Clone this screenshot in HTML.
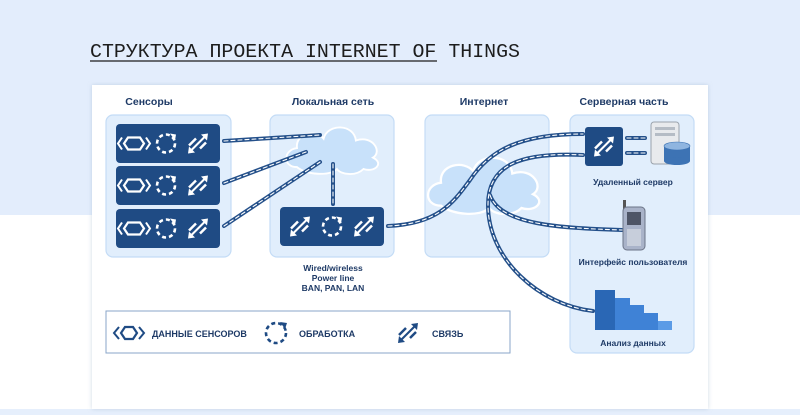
<!DOCTYPE html>
<html><head><meta charset="utf-8"><style>
html,body{margin:0;padding:0;width:800px;height:415px;overflow:hidden;background:#fff}
svg{display:block}
text{font-family:"Liberation Sans",sans-serif;font-weight:bold;fill:#1e3a66}
</style></head><body>
<svg width="800" height="415" viewBox="0 0 800 415" xmlns="http://www.w3.org/2000/svg">
<defs>
<filter id="sh" x="-5%" y="-5%" width="110%" height="110%"><feDropShadow dx="0" dy="0" stdDeviation="2" flood-color="#9fb3cc" flood-opacity="0.5"/></filter>
<g id="hex">
 <polygon points="-6,-6 6,-6 10,0 6,6 -6,6 -10,0" fill="none" stroke="#fff" stroke-width="2.2"/>
 <polyline points="-12,-6 -16,0 -12,6" fill="none" stroke="#fff" stroke-width="2"/>
 <polyline points="12,-6 16,0 12,6" fill="none" stroke="#fff" stroke-width="2"/>
</g>
<g id="cyc">
 <circle r="9" fill="none" stroke="#fff" stroke-width="2.6" stroke-dasharray="4 3"/>
 <polygon points="4,-10 10,-9 9,-3" fill="#fff"/>
</g>
<g id="lnk">
 <line x1="-8" y1="8" x2="8" y2="-8" stroke="#fff" stroke-width="2"/>
 <polygon points="10,-10 3,-9 9,-3" fill="#fff"/>
 <polygon points="-10,10 -3,9 -9,3" fill="#fff"/>
 <line x1="-9" y1="2" x2="-2" y2="-5" stroke="#fff" stroke-width="2.5"/>
 <line x1="2" y1="5" x2="8" y2="-1" stroke="#fff" stroke-width="2.5"/>
</g>
<g id="cloud">
 <path d="M-40,18 C-55,18 -55,0 -40,-2 C-42,-18 -20,-22 -12,-12 C-8,-28 20,-28 22,-10 C40,-16 50,2 40,8 C52,14 42,24 30,20 C22,28 6,26 2,20 C-6,28 -30,26 -40,18 Z" fill="#c8e1fa" stroke="#fff" stroke-width="2"/>
</g>
</defs>
<rect x="0" y="0" width="800" height="215" fill="#e3edfc"/>
<rect x="0" y="409" width="800" height="6" fill="#e6effc"/>
<text x="90" y="57" textLength="430" lengthAdjust="spacingAndGlyphs" style="font-family:'Liberation Mono',monospace;font-weight:normal;font-size:19.8px;fill:#1d1d1d">СТРУКТУРА ПРОЕКТА INTERNET OF THINGS</text>
<line x1="90" y1="61" x2="437" y2="61" stroke="#1d1d1d" stroke-width="1.3"/>
<rect x="92" y="85" width="616" height="324" fill="#fff" filter="url(#sh)"/>

<g font-size="10.5" text-anchor="middle">
<text x="149" y="105">Сенсоры</text>
<text x="333" y="105">Локальная сеть</text>
<text x="484" y="105">Интернет</text>
<text x="624" y="105">Серверная часть</text>
</g>
<g fill="#e1eefc" stroke="#c4dcf6" stroke-width="1.2">
<rect x="106" y="115" width="125" height="142" rx="7"/>
<rect x="270" y="115" width="124" height="142" rx="7"/>
<rect x="425" y="115" width="124" height="142" rx="7"/>
<rect x="570" y="115" width="124" height="238" rx="7"/>
</g>
<use href="#cloud" transform="translate(335,150) scale(0.95)"/>
<use href="#cloud" transform="translate(487,185) scale(1.15)"/>

<g fill="#1f4b84">
<rect x="116" y="124" width="104" height="39" rx="4"/>
<rect x="116" y="166" width="104" height="39" rx="4"/>
<rect x="116" y="209" width="104" height="39" rx="4"/>
<rect x="280" y="207" width="104" height="39" rx="4"/>
<rect x="585" y="127" width="38" height="39" rx="3"/>
</g>
<use href="#hex" x="134" y="143.5"/><use href="#cyc" x="166" y="143.5"/><use href="#lnk" x="198" y="143.5"/>
<use href="#hex" x="134" y="185.5"/><use href="#cyc" x="166" y="185.5"/><use href="#lnk" x="198" y="185.5"/>
<use href="#hex" x="134" y="228.5"/><use href="#cyc" x="166" y="228.5"/><use href="#lnk" x="198" y="228.5"/>
<use href="#lnk" x="300" y="226.5"/><use href="#cyc" x="332" y="226.5"/><use href="#lnk" x="364" y="226.5"/>
<use href="#lnk" x="604" y="146.5"/>

<g fill="none" stroke-linecap="round">
<g stroke="#24508a" stroke-width="4">
<path d="M224,141 L320,135"/><path d="M224,183 L306,152"/><path d="M224,226 L320,162"/>
<path d="M333,164 L333,204"/>
<path d="M388,226 C440,224 455,200 470,180 C490,150 520,134 583,134"/>
<path d="M583,155 C520,152 488,165 488,205 C488,260 540,305 593,311"/>
<path d="M490,195 C500,225 560,228 622,230"/>
<path d="M627,138 L645,138"/><path d="M627,153 L645,153"/>
</g>
<g stroke="#fff" stroke-width="1.1" stroke-dasharray="4 3">
<path d="M224,141 L320,135"/><path d="M224,183 L306,152"/><path d="M224,226 L320,162"/>
<path d="M333,164 L333,204"/>
<path d="M388,226 C440,224 455,200 470,180 C490,150 520,134 583,134"/>
<path d="M583,155 C520,152 488,165 488,205 C488,260 540,305 593,311"/>
<path d="M490,195 C500,225 560,228 622,230"/>
<path d="M627,138 L645,138"/><path d="M627,153 L645,153"/>
</g>
</g>

<rect x="651" y="122" width="28" height="42" rx="3" fill="#e8eaed" stroke="#9aa2ab"/>
<rect x="655" y="127" width="20" height="3" fill="#b5bcc5"/>
<rect x="655" y="133" width="20" height="3" fill="#b5bcc5"/>
<rect x="664" y="146" width="26" height="15" fill="#3d73b4"/>
<ellipse cx="677" cy="161" rx="13" ry="4" fill="#3d73b4"/>
<ellipse cx="677" cy="146" rx="13" ry="4" fill="#8fb5e0" stroke="#3d73b4" stroke-width="0.6"/>
<text x="633" y="185" font-size="8.5" text-anchor="middle">Удаленный сервер</text>
<rect x="623" y="200" width="3" height="10" fill="#555"/>
<rect x="623" y="207" width="22" height="43" rx="4" fill="#a9b3c9" stroke="#6c7487"/>
<rect x="627" y="212" width="14" height="13" fill="#4e5566"/>
<rect x="627" y="229" width="14" height="17" fill="#c7cedb"/>
<text x="633" y="265" font-size="8.5" text-anchor="middle">Интерфейс пользователя</text>
<g fill="#3f82d6">
<rect x="595" y="290" width="20" height="40" fill="#2a67b5"/>
<rect x="615" y="298" width="15" height="32"/>
<rect x="630" y="305" width="14" height="25"/>
<rect x="644" y="313" width="14" height="17"/>
<rect x="658" y="321" width="14" height="9" fill="#5b9be6"/>
</g>
<text x="633" y="346" font-size="8.5" text-anchor="middle">Анализ данных</text>

<g font-size="8.5" text-anchor="middle">
<text x="333" y="271">Wired/wireless</text>
<text x="333" y="281">Power line</text>
<text x="333" y="291">BAN, PAN, LAN</text>
</g>

<rect x="106" y="311" width="404" height="42" fill="#fff" stroke="#8aa6c8" stroke-width="1"/>
<g transform="translate(-1 0)">
<polygon points="126,327 134,327 138,333 134,339 126,339 122,333" fill="none" stroke="#1f4b84" stroke-width="2.2"/>
<polyline points="120,327 115,333 120,339" fill="none" stroke="#1f4b84" stroke-width="2"/>
<polyline points="140,327 145,333 140,339" fill="none" stroke="#1f4b84" stroke-width="2"/>
</g>
<text x="152" y="337" font-size="9">ДАННЫЕ СЕНСОРОВ</text>
<circle cx="276" cy="333" r="10" fill="none" stroke="#1f4b84" stroke-width="2.6" stroke-dasharray="4 3"/>
<polygon points="280,322 287,323 285,329" fill="#1f4b84"/>
<text x="299" y="337" font-size="9">ОБРАБОТКА</text>
<g transform="translate(408 333)">
<line x1="-8" y1="8" x2="8" y2="-8" stroke="#1f4b84" stroke-width="2"/>
<polygon points="10,-10 3,-9 9,-3" fill="#1f4b84"/>
<polygon points="-10,10 -3,9 -9,3" fill="#1f4b84"/>
<line x1="-9" y1="2" x2="-2" y2="-5" stroke="#1f4b84" stroke-width="2.5"/>
<line x1="2" y1="5" x2="8" y2="-1" stroke="#1f4b84" stroke-width="2.5"/>
</g>
<text x="432" y="337" font-size="9">СВЯЗЬ</text>
</svg>
</body></html>
